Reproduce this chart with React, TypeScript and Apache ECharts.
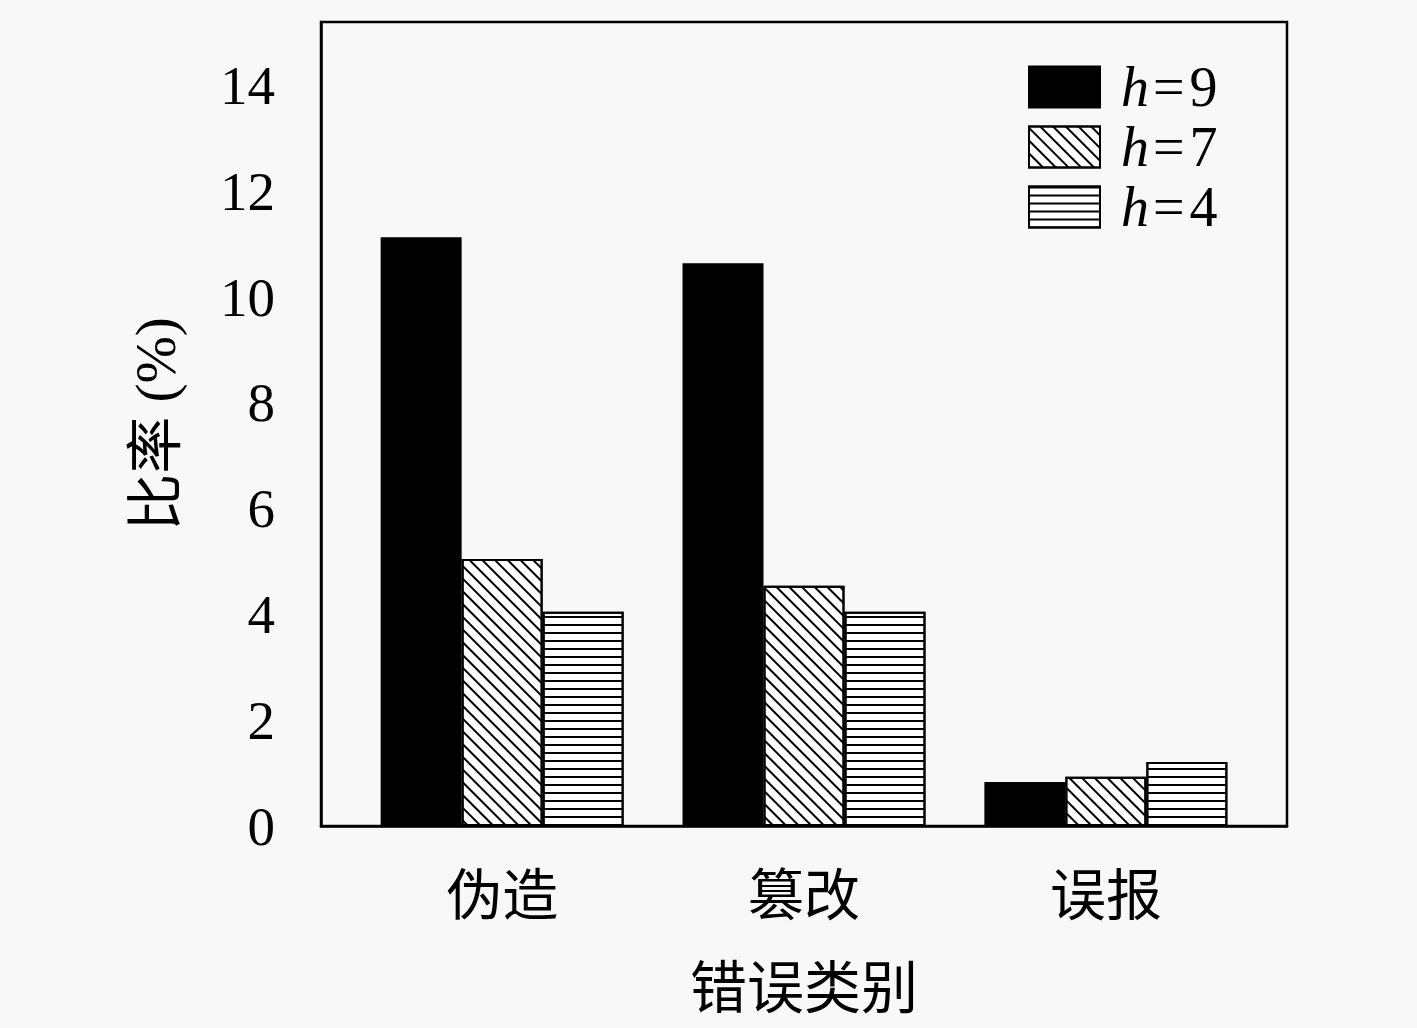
import React, { useEffect, useRef } from "react";
import * as echarts from "echarts";

const categories = ["伪造", "篡改", "误报"];
const seriesNames = ["h=9", "h=7", "h=4"];
const h9Values = [11.13, 10.64, 0.83];
const h7Values = [5.05, 4.54, 0.93];
const h4Values = [4.05, 4.05, 1.21];
const yTicks = [0, 2, 4, 6, 8, 10, 12, 14];

const SERIF = "'Liberation Serif', 'DejaVu Serif', serif";
const CJK = "'Noto Sans CJK SC', sans-serif";
const MIXED = "'Liberation Serif', 'Noto Sans CJK SC', serif";

export default function App() {
  const ref = useRef<HTMLDivElement>(null);
  useEffect(() => {
    if (!ref.current) return;
    const chart = echarts.init(ref.current, null, { renderer: "svg" });
    const toData = (vals: number[]) => vals.map((v, i) => [i + 1, v]);
    const hatchDiag = {
      symbol: "rect",
      symbolSize: 1,
      color: "#000",
      backgroundColor: "#fff",
      dashArrayX: [1, 0],
      dashArrayY: [1.2, 7],
      rotation: Math.PI / 4,
    };
    const hatchHoriz = {
      symbol: "rect",
      symbolSize: 1,
      color: "#000",
      backgroundColor: "#fff",
      dashArrayX: [1, 0],
      dashArrayY: [2, 6],
      rotation: 0,
    };
    const styles = [
      { color: "#000", borderColor: "#000", borderWidth: 2 },
      { color: "#fff", borderColor: "#000", borderWidth: 2, decal: hatchDiag },
      { color: "#fff", borderColor: "#000", borderWidth: 2, decal: hatchHoriz },
    ];
    const allVals = [h9Values, h7Values, h4Values];
    chart.setOption({
      animation: false,
      backgroundColor: "#f8f8f8",
      grid: {
        left: 321,
        top: 22,
        right: 130,
        bottom: 202,
        show: true,
        borderColor: "#000",
        borderWidth: 2.5,
        backgroundColor: "transparent",
      },
      legend: {
        orient: "vertical",
        left: 1028,
        top: 59,
        padding: 0,
        itemWidth: 71,
        itemHeight: 41,
        itemGap: 4,
        icon: "rect",
        data: seriesNames,
        formatter: (name: string) => `{i|h}{e|=}{n|${name.slice(2)}}`,
        textStyle: {
          padding: [0, 0, 0, 16],
          lineHeight: 41,
          rich: {
            i: { fontFamily: SERIF, fontStyle: "italic", fontSize: 56, color: "#000", lineHeight: 41 },
            e: { fontFamily: SERIF, fontSize: 56, color: "#000", lineHeight: 41, padding: [0, 5, 0, 4] },
            n: { fontFamily: SERIF, fontSize: 56, color: "#000", lineHeight: 41 },
          },
        },
      },
      xAxis: {
        type: "value",
        min: 0.4,
        max: 3.6,
        axisLine: { show: true, lineStyle: { color: "#000", width: 2.5 } },
        axisTick: { show: false },
        splitLine: { show: false },
        axisLabel: {
          customValues: [1, 2, 3],
          formatter: (v: number) => categories[Math.round(v) - 1] ?? "",
          fontFamily: CJK,
          fontSize: 56,
          color: "#000",
          margin: 36,
        },
        name: "错误类别",
        nameLocation: "middle",
        nameGap: 128,
        nameTextStyle: { fontFamily: CJK, fontSize: 57, color: "#000" },
      },
      yAxis: {
        type: "value",
        min: 0,
        max: 15.2,
        axisLine: { show: true, lineStyle: { color: "#000", width: 2.5 } },
        axisTick: { show: false },
        splitLine: { show: false },
        axisLabel: {
          customValues: yTicks,
          fontFamily: SERIF,
          fontSize: 55,
          color: "#000",
          margin: 46,
        },
        name: "比率 (%)",
        nameLocation: "middle",
        nameRotate: 90,
        nameGap: 137,
        nameTextStyle: { fontFamily: MIXED, fontSize: 57, color: "#000" },
      },
      series: seriesNames.map((name, k) => ({
        name,
        type: "bar",
        barWidth: 81,
        barGap: "0%",
        data: toData(allVals[k]),
        itemStyle: styles[k],
      })),
    });
    return () => chart.dispose();
  }, []);
  return (
    <div
      ref={ref}
      style={{ position: "absolute", left: 0, top: 0, width: 1417, height: 1028 }}
    />
  );
}
